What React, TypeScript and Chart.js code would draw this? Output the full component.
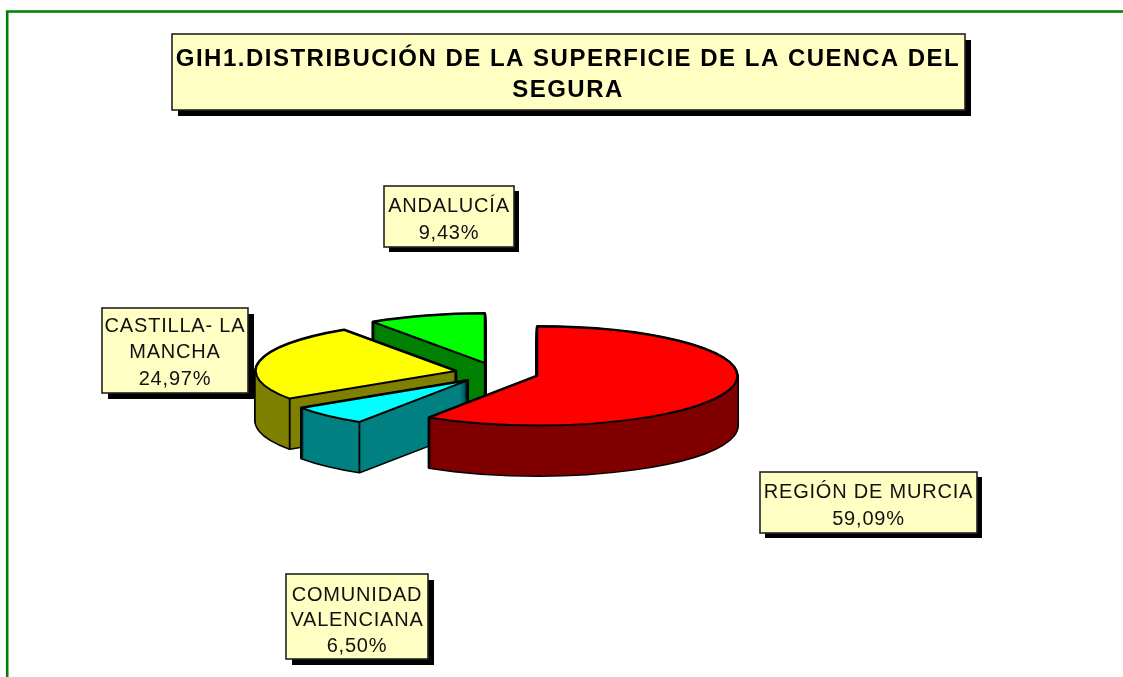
import React, { useEffect, useRef } from "react";
import { Chart, registerables } from "chart.js";

Chart.register(...registerables);

const titleLines = ["GIH1.DISTRIBUCIÓN DE LA SUPERFICIE DE LA CUENCA DEL", "SEGURA"];
const regions = ["REGIÓN DE MURCIA", "COMUNIDAD VALENCIANA", "CASTILLA- LA MANCHA", "ANDALUCÍA"];
const regionLabelLines = [["REGIÓN DE MURCIA"], ["COMUNIDAD", "VALENCIANA"], ["CASTILLA- LA", "MANCHA"], ["ANDALUCÍA"]];
const shares = [59.09, 6.5, 24.97, 9.43];
const topColors = ["#FF0000", "#00FFFF", "#FFFF00", "#00FF00"];
const sideColors = ["#800000", "#008080", "#808000", "#008000"];

const FONT = '"Liberation Sans", Arial, sans-serif';
const BOX_FILL = "#FFFFC4";
const CENTER_X = 497;
const CENTER_Y = 373;
const SQUASH = 0.2475;
const DEPTH = 50;
const RADIUS = 200;
const EXPLODE = 42;

// Label placement: [left, top, right, bottom, shadow, first-line y, line step]
const labelBoxes = [
  [760, 472, 977, 533, 5, 492, 27],
  [286, 574, 428, 659, 6, 595, 25.5],
  [102, 308, 248, 393, 6, 326, 26.5],
  [384, 186, 514, 247, 5, 206, 27],
];
const titleBox = [172, 34, 965, 110, 6];

function drawBox(ctx: any, l: number, t: number, r: number, b: number, s: number) {
  ctx.fillStyle = "#000";
  ctx.fillRect(l + s, t + s, r - l, b - t);
  ctx.fillStyle = BOX_FILL;
  ctx.fillRect(l, t, r - l, b - t);
  ctx.strokeStyle = "#222";
  ctx.lineWidth = 1.6;
  ctx.strokeRect(l, t, r - l, b - t);
}

function paint(ctx: any, arc: any, base: DOMMatrix, fill: string, stroke: string, width: number) {
  const saved = arc.options;
  arc.options = { ...saved, offset: 0, backgroundColor: fill, borderColor: stroke, borderWidth: width, borderJoinStyle: "round" };
  const nativeStroke = ctx.stroke;
  ctx.stroke = function () {
    const m = ctx.getTransform();
    ctx.setTransform(base);
    nativeStroke.call(ctx);
    ctx.setTransform(m);
  };
  arc.draw(ctx);
  delete ctx.stroke;
  arc.options = saved;
}

const framePlugin = {
  id: "frame",
  beforeDraw(chart: any) {
    const ctx = chart.ctx;
    ctx.save();
    ctx.strokeStyle = "#008000";
    ctx.lineWidth = 2.6;
    ctx.beginPath();
    ctx.moveTo(7.2, chart.height + 2);
    ctx.lineTo(7.2, 11.5);
    ctx.lineTo(chart.width + 2, 11.5);
    ctx.stroke();
    const [l, t, r, b, s] = titleBox;
    drawBox(ctx, l, t, r, b, s);
    ctx.restore();
    ctx.letterSpacing = "1.5px";
  },
};

const pie3dPlugin = {
  id: "pie3d",
  beforeDatasetDraw(chart: any, args: any) {
    const ctx = chart.ctx;
    const arcs = chart.getDatasetMeta(args.index).data;
    const base = ctx.getTransform();
    for (let i = arcs.length - 1; i >= 0; i--) {
      const arc = arcs[i];
      const mid = (arc.startAngle + arc.endAngle) / 2;
      const ox = CENTER_X + Math.cos(mid) * arc.options.offset;
      const oy = CENTER_Y + Math.sin(mid) * arc.options.offset * SQUASH;
      const place = (dy: number, fn: () => void) => {
        ctx.save();
        ctx.translate(ox, oy + dy);
        ctx.scale(1, SQUASH);
        ctx.translate(-arc.x, -arc.y);
        fn();
        ctx.restore();
      };
      for (let dy = DEPTH; dy >= 0; dy--) place(dy, () => paint(ctx, arc, base, sideColors[i], "#000", 3));
      for (let dy = DEPTH; dy >= 0; dy--) place(dy, () => paint(ctx, arc, base, sideColors[i], "#000", 0));
      ctx.save();
      ctx.strokeStyle = "#000";
      ctx.lineWidth = 1.8;
      const corners = [
        [ox, oy],
        [ox + Math.cos(arc.startAngle) * arc.outerRadius, oy + Math.sin(arc.startAngle) * arc.outerRadius * SQUASH],
        [ox + Math.cos(arc.endAngle) * arc.outerRadius, oy + Math.sin(arc.endAngle) * arc.outerRadius * SQUASH],
      ];
      for (const [x, y] of corners) {
        ctx.beginPath();
        ctx.moveTo(x, y);
        ctx.lineTo(x, y + DEPTH);
        ctx.stroke();
      }
      ctx.restore();
      place(0, () => paint(ctx, arc, base, topColors[i], "#000", 2));
    }
    return false;
  },
};

const labelPlugin = {
  id: "sliceLabels",
  afterDraw(chart: any) {
    const ctx = chart.ctx;
    ctx.save();
    ctx.letterSpacing = "0.8px";
    regionLabelLines.forEach((lines, i) => {
      const [l, t, r, b, s, first, step] = labelBoxes[i];
      drawBox(ctx, l, t, r, b, s);
      ctx.fillStyle = "#111";
      ctx.font = `20px ${FONT}`;
      ctx.textAlign = "center";
      ctx.textBaseline = "middle";
      const text = [...lines, `${shares[i].toFixed(2).replace(".", ",")}%`];
      text.forEach((line, k) => ctx.fillText(line, (l + r) / 2, first + k * step));
    });
    ctx.restore();
  },
};

export default function App() {
  const ref = useRef<HTMLCanvasElement>(null);
  useEffect(() => {
    document.body.style.margin = "0";
    const chart = new Chart(ref.current as HTMLCanvasElement, {
      type: "pie",
      data: {
        labels: regions,
        datasets: [{ data: shares, backgroundColor: topColors, borderColor: "#000", borderWidth: 2, offset: EXPLODE }],
      },
      options: {
        responsive: false,
        animation: false,
        radius: RADIUS,
        layout: { padding: { left: 13, top: 0, right: 0, bottom: 0 } },
        plugins: {
          legend: { display: false },
          tooltip: { enabled: false },
          title: {
            display: true,
            text: titleLines,
            color: "#000",
            font: { family: FONT, size: 24, weight: "bold", lineHeight: 1.3 },
            padding: { top: 44, bottom: 0 },
          },
        },
      } as any,
      plugins: [framePlugin, pie3dPlugin, labelPlugin],
    });
    return () => chart.destroy();
  }, []);
  return <canvas ref={ref} width={1123} height={677} style={{ display: "block" }} />;
}
